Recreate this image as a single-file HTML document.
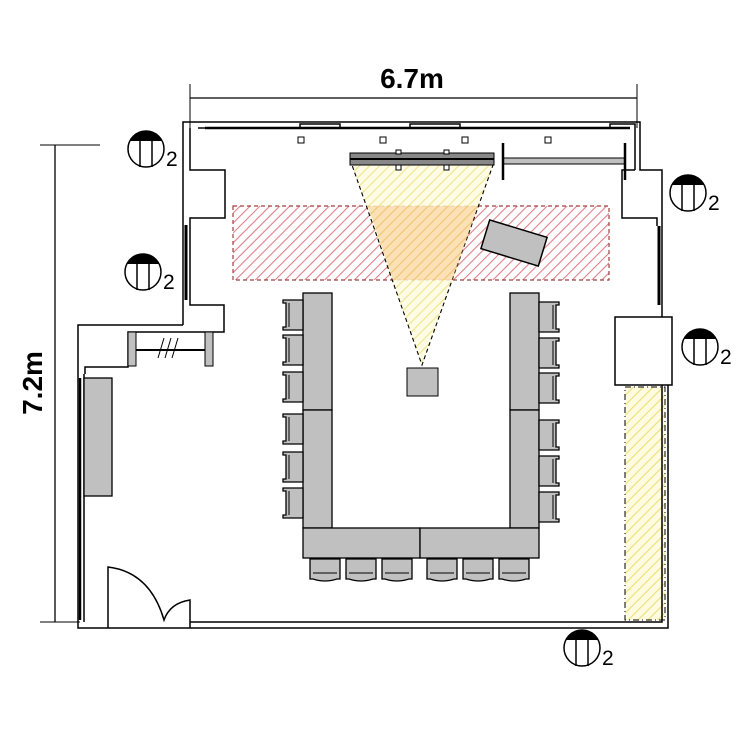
<!DOCTYPE html>
<html><head><meta charset="utf-8"><style>
html,body{margin:0;padding:0;background:#fff;}
svg{display:block;}
text{font-family:"Liberation Sans",sans-serif;}
</style></head><body>
<svg width="748" height="748" viewBox="0 0 748 748" xmlns="http://www.w3.org/2000/svg">
<defs>
<pattern id="red" patternUnits="userSpaceOnUse" width="7" height="7" patternTransform="rotate(45)">
<rect width="7" height="7" fill="#fff"/><line x1="0" y1="0" x2="0" y2="7" stroke="#e0808a" stroke-width="2.2"/></pattern>
<pattern id="yel" patternUnits="userSpaceOnUse" width="7" height="7" patternTransform="rotate(45)">
<rect width="7" height="7" fill="#fffbe0"/><line x1="0" y1="0" x2="0" y2="7" stroke="#ece07a" stroke-width="2.2"/></pattern>
<g id="sym">
<circle cx="0" cy="0" r="18" fill="#fff" stroke="#000" stroke-width="1.5"/>
<path d="M-16,-8 A18,18 0 0 1 16,-8 Z" fill="#000"/>
<line x1="-6" y1="-8" x2="-6" y2="18" stroke="#000" stroke-width="1.5"/>
<line x1="6" y1="-8" x2="6" y2="18" stroke="#000" stroke-width="1.5"/>
<text x="20" y="17" font-size="21">2</text>
</g>
<g id="chL"><path d="M0,0 h20 v30 h-20 v-3 h3 v-24 h-3 z" fill="#c0c0c0" stroke="#000" stroke-width="1.3"/><line x1="6" y1="3" x2="6" y2="27" stroke="#000"/></g>
<g id="chB"><path d="M0,0 h30 v20 h-3 q-12,4 -24,0 h-3 z" fill="#c0c0c0" stroke="#000" stroke-width="1.3"/><line x1="3" y1="14" x2="27" y2="14" stroke="#000"/></g>
</defs>

<line x1="190" y1="98" x2="637" y2="98" stroke="#000" stroke-width="1.3"/>
<line x1="190" y1="84" x2="190" y2="128" stroke="#000"/>
<line x1="637" y1="84" x2="637" y2="128" stroke="#000"/>
<text x="412" y="88" font-size="28" font-weight="bold" text-anchor="middle">6.7m</text>
<line x1="55" y1="145" x2="55" y2="622" stroke="#000" stroke-width="1.3"/>
<line x1="40" y1="145" x2="100" y2="145" stroke="#000"/>
<line x1="40" y1="622" x2="80" y2="622" stroke="#000"/>
<text transform="translate(42,383) rotate(-90)" font-size="28" font-weight="bold" text-anchor="middle">7.2m</text>

<rect x="233" y="206" width="376" height="74" fill="url(#red)" stroke="#a04040" stroke-width="1.2" stroke-dasharray="4,3"/>
<polygon points="352,165 493,165 422,365" fill="url(#yel)" fill-opacity="0.85" stroke="#000" stroke-width="1.1" stroke-dasharray="4,3"/>
<polygon points="368,206 478,206 453,280 393,280" fill="#f6b060" fill-opacity="0.35"/>
<rect x="625" y="387" width="40" height="233" fill="url(#yel)" stroke="#000" stroke-width="1" stroke-dasharray="6,3,1,3"/>

<g fill="none" stroke="#000" stroke-width="1.5">
<path d="M183,325 H78 V628 H190"/>
<path d="M190,628 H668 V385"/>
<path d="M183,325 V122 H640 V170 H662 V317"/>
<path d="M190,622 H662 V385"/>
<path d="M190,128 V170 H225 V218 H190 V305 H224 V332 H128 V367 H85 V374"/>
<path d="M198,128 H300 V124 H340 V128 H410 V124 H460 V128 H610 V124 H635 V170"/>
<path d="M205,128 H630" stroke-width="2.5"/>
<path d="M635,170 H622 V218 H657 V226"/>
<rect x="615" y="317" width="57" height="68"/>
<path d="M84,374 V622"/>
</g>
<line x1="186" y1="225" x2="186" y2="300" stroke="#000" stroke-width="3"/>
<line x1="659" y1="226" x2="659" y2="305" stroke="#000" stroke-width="3"/>
<line x1="80" y1="378" x2="80" y2="620" stroke="#000" stroke-width="2.5"/>
<g fill="#fff" stroke="#000"><rect x="298" y="137" width="6" height="6"/><rect x="380" y="137" width="6" height="6"/><rect x="462" y="137" width="6" height="6"/><rect x="545" y="137" width="6" height="6"/></g>
<rect x="128" y="332" width="8" height="34" fill="#c0c0c0" stroke="#000"/>
<rect x="205" y="332" width="8" height="34" fill="#c0c0c0" stroke="#000"/>
<line x1="136" y1="350" x2="205" y2="350" stroke="#000" stroke-width="2"/>
<g stroke="#000"><line x1="158" y1="358" x2="164" y2="338"/><line x1="165" y1="358" x2="171" y2="338"/><line x1="172" y1="358" x2="178" y2="338"/></g>
<rect x="84" y="378" width="28" height="118" fill="#c0c0c0" stroke="#000" stroke-width="1.3"/>
<g fill="none" stroke="#000" stroke-width="1.5">
<path d="M108,628 V567 Q150,572 164,620 Q170,603 190,600 V628"/>
</g>
<rect x="350" y="153" width="144" height="12" fill="#888" stroke="#000"/>
<line x1="350" y1="159" x2="494" y2="159" stroke="#000" stroke-width="2"/>
<g fill="#fff" stroke="#000"><rect x="396" y="150" width="5" height="4"/><rect x="444" y="150" width="5" height="4"/><rect x="396" y="165" width="5" height="5"/><rect x="444" y="165" width="5" height="5"/></g>
<rect x="503" y="158" width="122" height="6" fill="#c0c0c0" stroke="#000"/>
<line x1="503" y1="143" x2="503" y2="180" stroke="#000" stroke-width="2.5"/>
<line x1="625" y1="143" x2="625" y2="180" stroke="#000" stroke-width="2.5"/>
<rect x="-30" y="-15" width="60" height="30" fill="#c0c0c0" stroke="#000" stroke-width="1.5" transform="translate(514,243) rotate(17)"/>
<rect x="407" y="368" width="31" height="28" fill="#c0c0c0" stroke="#000"/>
<g fill="#c0c0c0" stroke="#000" stroke-width="1.3">
<rect x="303" y="293" width="29" height="117"/><rect x="303" y="410" width="29" height="118"/>
<rect x="510" y="293" width="29" height="117"/><rect x="510" y="410" width="29" height="118"/>
<rect x="303" y="528" width="117" height="30"/><rect x="420" y="528" width="119" height="30"/>
</g>
<use href="#chL" x="283" y="300"/><use href="#chL" x="283" y="335"/><use href="#chL" x="283" y="372"/>
<use href="#chL" x="283" y="414"/><use href="#chL" x="283" y="452"/><use href="#chL" x="283" y="488"/>
<g transform="translate(1097,0) scale(-1,1)">
<use href="#chL" x="538" y="302"/><use href="#chL" x="538" y="338"/><use href="#chL" x="538" y="373"/>
<use href="#chL" x="538" y="420"/><use href="#chL" x="538" y="456"/><use href="#chL" x="538" y="492"/>
</g>
<use href="#chB" x="310" y="559"/><use href="#chB" x="346" y="559"/><use href="#chB" x="382" y="559"/>
<use href="#chB" x="427" y="559"/><use href="#chB" x="463" y="559"/><use href="#chB" x="499" y="559"/>
<use href="#sym" x="146" y="149"/>
<use href="#sym" x="143" y="272"/>
<use href="#sym" x="688" y="193"/>
<use href="#sym" x="700" y="347"/>
<use href="#sym" x="582" y="648"/>
</svg>
</body></html>
